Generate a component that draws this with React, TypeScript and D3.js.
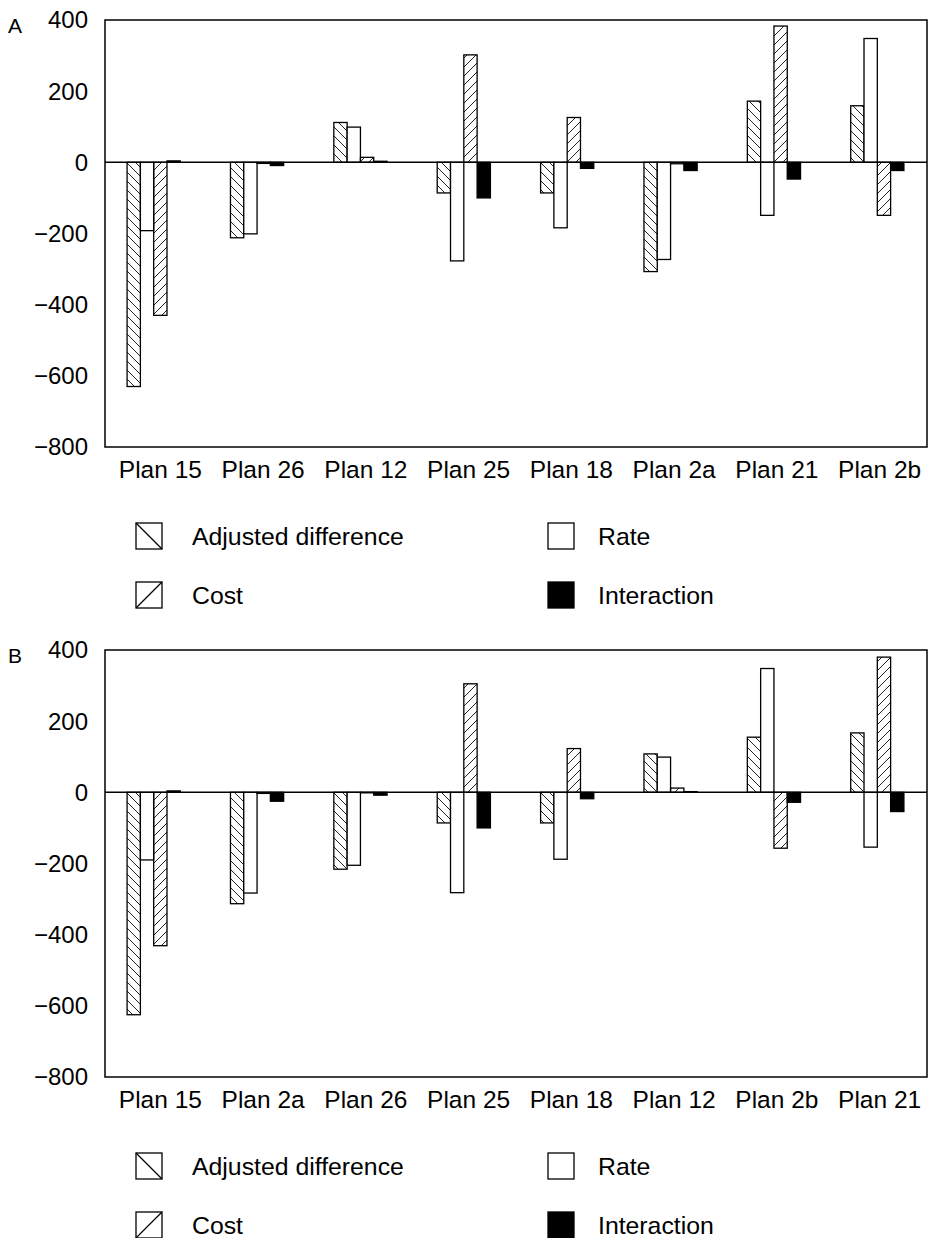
import React from "react";
import * as d3 from "d3";

// panel A
const plansA = ["Plan 15", "Plan 26", "Plan 12", "Plan 25", "Plan 18", "Plan 2a", "Plan 21", "Plan 2b"];
const adjA = [-630, -212, 112, -86, -86, -307, 172, 159];
const rateA = [-192, -201, 99, -277, -184, -273, -149, 348];
const costA = [-430, -3, 14, 302, 126, -4, 383, -149];
const interA = [4, -9, 3, -100, -17, -23, -47, -23];

// panel B
const plansB = ["Plan 15", "Plan 2a", "Plan 26", "Plan 25", "Plan 18", "Plan 12", "Plan 2b", "Plan 21"];
const adjB = [-625, -313, -216, -86, -86, 108, 155, 167];
const rateB = [-190, -283, -205, -282, -188, 99, 348, -154];
const costB = [-431, -3, -1, 305, 123, 12, -157, 380];
const interB = [4, -25, -8, -100, -18, 2, -28, -54];

const yTicks = [400, 200, 0, -200, -400, -600, -800];
const seriesNames = ["Adjusted difference", "Cost", "Rate", "Interaction"];

const W = 929;
const H = 1238;
const left = 105;
const right = 927;
const barW = 13.3;
const font = "'Liberation Sans', Arial, Helvetica, sans-serif";

const fills = ["url(#hatchBack)", "#fff", "url(#hatchFwd)", "#000"];

const Panel = ({ letter, top, bottom, plans, series }) => {
  const y = d3.scaleLinear().domain([-800, 400]).range([bottom, top]);
  const xBar = d3.scaleBand().domain(plans).range([left - 3, right + 2]);
  const xLab = d3.scaleBand().domain(plans).range([left + 4, right + 4]);
  const fmt = d3.format("d");

  return (
    <g>
      <text x={8} y={top + 6} dy="0.35em" fontSize={21} fontFamily={font}>
        {letter}
      </text>
      {yTicks.map(t => (
        <text key={t} x={88} y={y(t)} dy="0.35em" textAnchor="end" fontSize={24} fontFamily={font}>
          {fmt(t)}
        </text>
      ))}
      {plans.map((p, i) => {
        const cx = xBar(p) + xBar.bandwidth() / 2;
        const x0 = cx - 2 * barW;
        return (
          <g key={p}>
            {series.map((s, j) => {
              const v = s[i];
              const y0 = y(Math.max(0, v));
              const h = Math.max(Math.abs(y(v) - y(0)), 0.5);
              return (
                <rect
                  key={j}
                  x={x0 + j * barW}
                  y={y0}
                  width={barW}
                  height={h}
                  fill={fills[j]}
                  stroke="#000"
                  strokeWidth={1.3}
                />
              );
            })}
          </g>
        );
      })}
      <line x1={left} x2={right} y1={y(0)} y2={y(0)} stroke="#000" strokeWidth={1.5} />
      <rect x={left} y={top} width={right - left} height={bottom - top} fill="none" stroke="#000" strokeWidth={1.5} />
      {plans.map(p => (
        <text
          key={p}
          x={xLab(p) + xLab.bandwidth() / 2}
          y={bottom + 22}
          dy="0.35em"
          textAnchor="middle"
          fontSize={24.5}
          fontFamily={font}
        >
          {p}
        </text>
      ))}
      <Legend top={bottom} />
    </g>
  );
};

const Legend = ({ top }) => {
  const rows = [top + 89, top + 148];
  const items = [
    { name: seriesNames[0], sx: 136, tx: 192, ty: rows[0], kind: "back" },
    { name: seriesNames[2], sx: 548, tx: 598, ty: rows[0], kind: "empty" },
    { name: seriesNames[1], sx: 136, tx: 192, ty: rows[1], kind: "fwd" },
    { name: seriesNames[3], sx: 548, tx: 598, ty: rows[1], kind: "solid" }
  ];
  const s = 26;
  return (
    <g>
      {items.map(it => (
        <g key={it.name}>
          <rect
            x={it.sx}
            y={it.ty - s / 2}
            width={s}
            height={s}
            fill={it.kind === "solid" ? "#000" : "#fff"}
            stroke="#000"
            strokeWidth={1.3}
          />
          {it.kind === "back" && (
            <line x1={it.sx} y1={it.ty - s / 2} x2={it.sx + s} y2={it.ty + s / 2} stroke="#000" strokeWidth={1.2} />
          )}
          {it.kind === "fwd" && (
            <line x1={it.sx} y1={it.ty + s / 2} x2={it.sx + s} y2={it.ty - s / 2} stroke="#000" strokeWidth={1.2} />
          )}
          <text x={it.tx} y={it.ty} dy="0.35em" fontSize={24.8} fontFamily={font}>
            {it.name}
          </text>
        </g>
      ))}
    </g>
  );
};

export default function App() {
  return (
    <svg width={W} height={H} style={{ position: "absolute", left: 0, top: 0, background: "#fff" }}>
      <defs>
        <pattern id="hatchBack" patternUnits="userSpaceOnUse" width={9} height={9}>
          <path d="M0,0 L9,9 M-1,8 L1,10 M8,-1 L10,1" stroke="#222" strokeWidth={1} />
        </pattern>
        <pattern id="hatchFwd" patternUnits="userSpaceOnUse" width={9} height={9}>
          <path d="M0,9 L9,0 M-1,1 L1,-1 M8,10 L10,8" stroke="#222" strokeWidth={1} />
        </pattern>
      </defs>
      <rect width={W} height={H} fill="#fff" />
      <Panel letter="A" top={20} bottom={447} plans={plansA} series={[adjA, rateA, costA, interA]} />
      <Panel letter="B" top={650} bottom={1077} plans={plansB} series={[adjB, rateB, costB, interB]} />
    </svg>
  );
}
